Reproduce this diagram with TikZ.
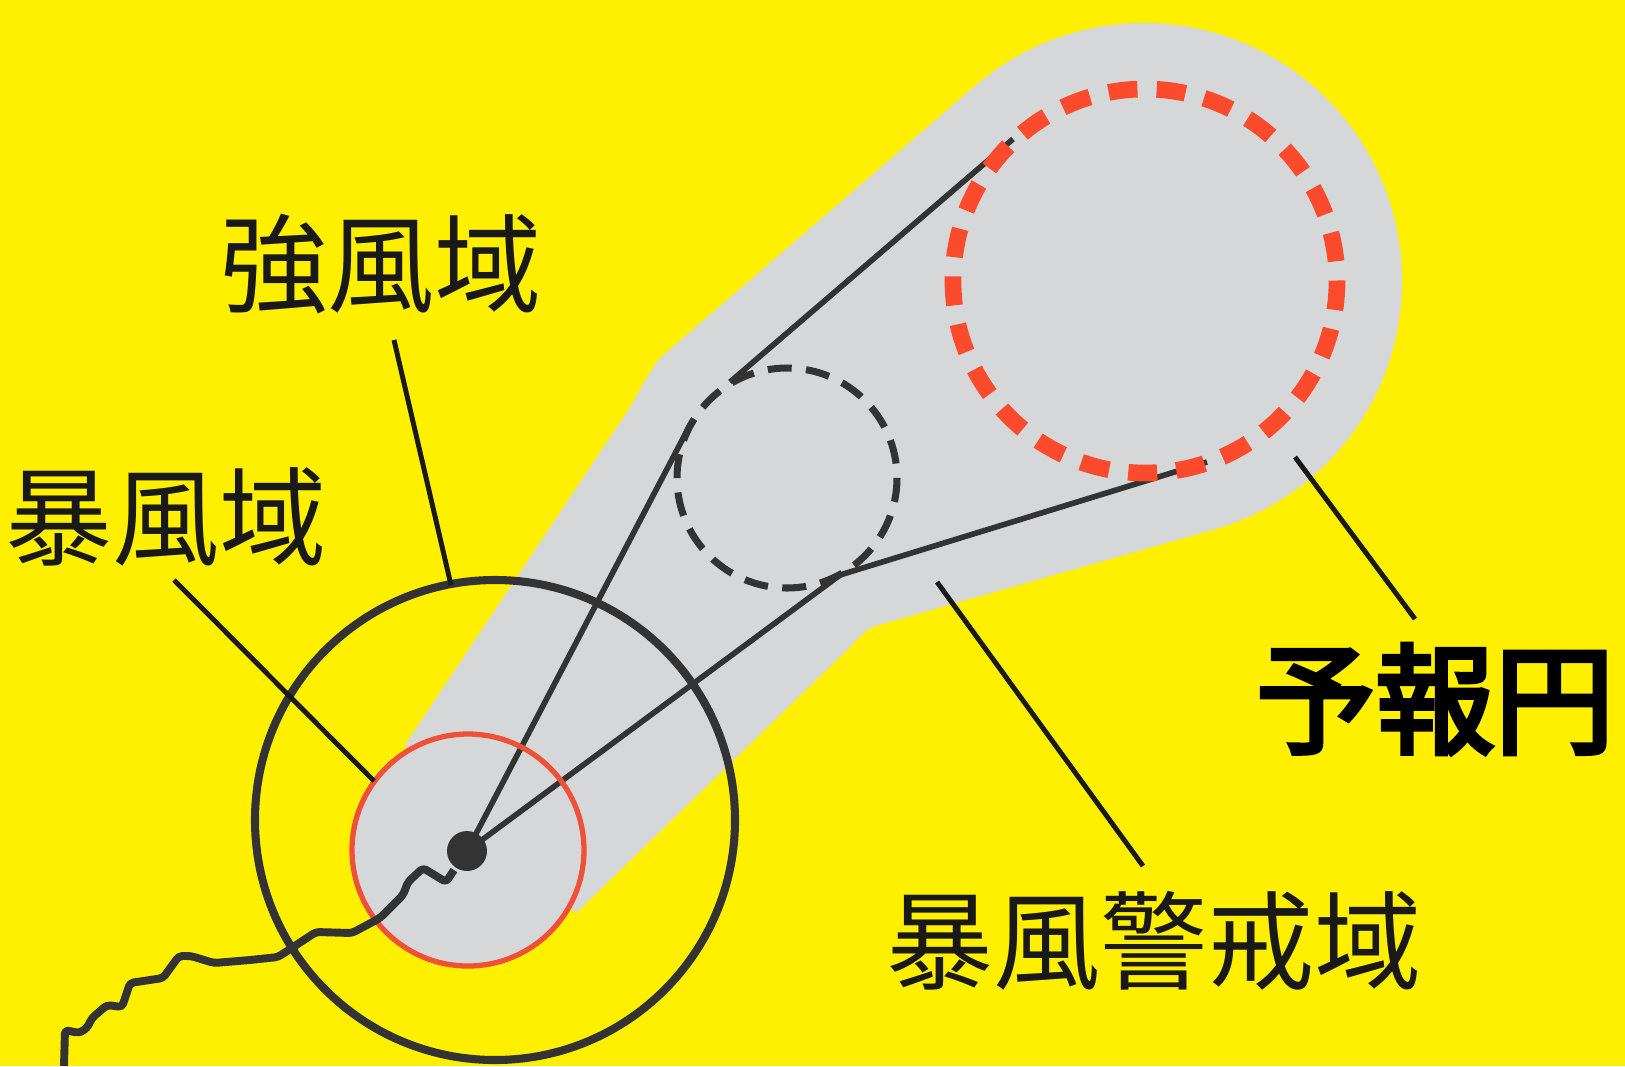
\documentclass[tikz,border=0pt]{standalone}
\usepackage{fontspec}
\newfontfamily\jp{Noto Sans CJK JP}
\newfontfamily\jpb[FakeBold=4]{Noto Sans CJK JP}
\definecolor{bgyellow}{HTML}{FFF000}
\definecolor{zonegrey}{HTML}{D6D7D8}
\definecolor{ink}{HTML}{333333}
\definecolor{thinred}{HTML}{EE5038}
\definecolor{dashred}{HTML}{FB4B2C}
\tikzset{
  zone/.style={fill=zonegrey,draw=none},
  leader/.style={draw=black!90,line width=2.8pt},
  hull/.style={draw=ink,line width=3.2pt},
  lbl/.style={font=\jp\fontsize{61}{61}\selectfont,text=black!90,inner sep=0pt},
  lblb/.style={font=\jpb\fontsize{68}{68}\selectfont,text=black,inner sep=0pt},
}
\begin{document}
\begin{tikzpicture}[x=0.02cm,y=-0.02cm]
\useasboundingbox (0,0) rectangle (1625,1066);
\fill[bgyellow] (0,0) rectangle (1625,1066);
% warning zone
\fill[zone] (405,745) -- (631,406) .. controls (641,388) and (650,370) .. (661,357) -- (975,86)
  -- (1214.5,529.3) -- (875,626) .. controls (865,630) and (858,638) .. (850,647) -- (576,913) -- cycle;
\fill[zone] (1144,281) circle [radius=258];
\fill[zone] (468,850) circle [radius=116];
% radii hull
\coordinate (hA) at (690,425);
\coordinate (hB) at (840,575);
\coordinate (hC) at (1207,462);
\coordinate (hD) at (730,382);
\coordinate (hE) at (1013,139);
\node[circle,fill=ink,minimum size=0.8cm,inner sep=0pt] (eye) at (467,851) {};
\draw[hull] (eye.center) -- (hA);
\draw[hull] (eye.center) -- (hB) -- (hC);
\draw[hull] (hD) -- (hE);
% circles
\draw[draw=ink,line width=4pt,dash pattern=on 0.48cm off 0.288cm] (787,478) circle [radius=110];
\draw[draw=dashred,line width=9.5pt,dash pattern=on 0.58cm off 0.385cm] (1145,281) circle [radius=192];
\draw[draw=ink,line width=4.6pt] (495,820) circle [radius=240];
\draw[draw=thinred,line width=3pt] (468,850) circle [radius=116];
% track
\coordinate (t0) at (64,1066);
\coordinate (t1) at (454,870);
\draw[draw=ink,line width=4.5pt,line join=round,rounded corners=2pt]
  (t0) -- (65,1030) -- (79,1033) -- (87,1028) -- (92,1018) -- (107,1005) -- (122,1007) -- (130,983)
  -- (163,978) -- (179,956) -- (191,956) -- (214,963) -- (250,960) -- (278,957) -- (316,932) -- (352,933)
  -- (380,918) -- (403,895) -- (408,882) -- (423,868) -- (446,882) -- (t1);
% labels
\node[lbl] (strong) at (381,264) {強風域};
\node[lbl] (storm) at (166,517) {暴風域};
\node[lbl] (warn) at (1154,941) {暴風警戒域};
\node[lblb] (fc) at (1435,699) {予報円};
% leaders
\coordinate (l1a) at (394,340); \coordinate (l1b) at (451,585);
\coordinate (l2a) at (174,580); \coordinate (l2b) at (374,781);
\coordinate (l3a) at (1295,457); \coordinate (l3b) at (1415,619);
\coordinate (l4a) at (937,582); \coordinate (l4b) at (1143,866);
\draw[leader] (l1a) -- (l1b);
\draw[leader] (l2a) -- (l2b);
\draw[leader] (l3a) -- (l3b);
\draw[leader] (l4a) -- (l4b);
\end{tikzpicture}
\end{document}
